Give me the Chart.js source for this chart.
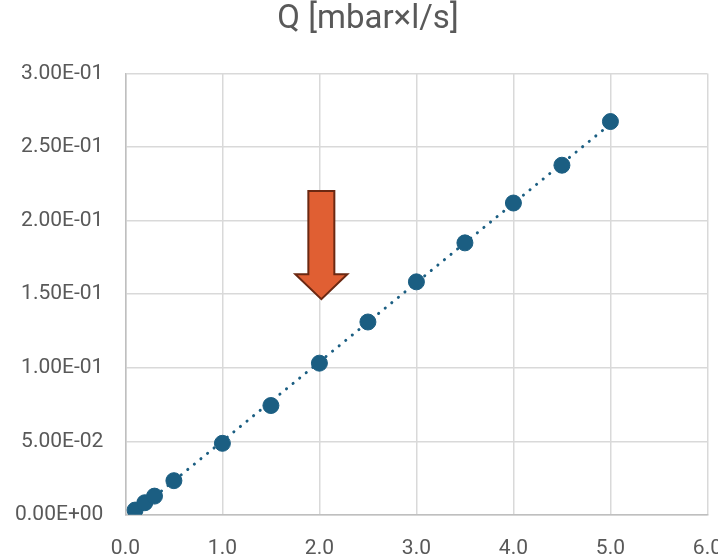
<!DOCTYPE html>
<html>
<head>
<meta charset="utf-8">
<script src="https://cdn.jsdelivr.net/npm/chart.js@4"></script>
<style>
  html, body { margin: 0; padding: 0; background: #fff; overflow: hidden; }
  #wrap { position: absolute; left: -7px; top: 0; width: 750px; height: 582px; }
</style>
</head>
<body>
<div id="wrap"><canvas id="grafico"></canvas></div>
<script>
const tiempos = [0.1, 0.2, 0.3, 0.5, 1.0, 1.5, 2.0, 2.5, 3.0, 3.5, 4.0, 4.5, 5.0];
const caudales = [0.0032, 0.0082, 0.0127, 0.0232, 0.0486, 0.0743, 0.1031, 0.1311, 0.1584, 0.1849, 0.2120, 0.2377, 0.2674];
const titulo = 'Q [mbar×l/s]';

// flecha de la anotación (coordenadas de datos)
const flecha = { x: 2.02, yArriba: 0.2202, yBase: 0.1636, yPunta: 0.1466 };

const puntos = tiempos.map((t, i) => ({ x: t, y: caudales[i] }));

// línea de tendencia lineal (mínimos cuadrados)
const n = tiempos.length;
const sx = tiempos.reduce((a, b) => a + b, 0);
const sy = caudales.reduce((a, b) => a + b, 0);
const sxy = tiempos.reduce((a, t, i) => a + t * caudales[i], 0);
const sxx = tiempos.reduce((a, t) => a + t * t, 0);
const pendiente = (n * sxy - sx * sy) / (n * sxx - sx * sx);
const corte = (sy - pendiente * sx) / n;
const xMin = Math.min(...tiempos), xMax = Math.max(...tiempos);
const tendencia = [
  { x: xMin, y: corte + pendiente * xMin },
  { x: xMax, y: corte + pendiente * xMax }
];

function formatoE(v) {
  if (Math.abs(v) < 1e-12) return '0.00E+00';
  const [m, e] = v.toExponential(2).split('e');
  const ex = parseInt(e, 10);
  return m + 'E' + (ex < 0 ? '-' : '+') + String(Math.abs(ex)).padStart(2, '0');
}

const pluginFlecha = {
  id: 'flecha',
  afterDatasetsDraw(chart) {
    const xs = chart.scales.x, ys = chart.scales.y;
    const cx = xs.getPixelForValue(flecha.x);
    const top = ys.getPixelForValue(flecha.yArriba);
    const base = ys.getPixelForValue(flecha.yBase);
    const tip = ys.getPixelForValue(flecha.yPunta);
    const ctx = chart.ctx;
    ctx.save();
    ctx.beginPath();
    ctx.moveTo(cx - 13, top);
    ctx.lineTo(cx + 13, top);
    ctx.lineTo(cx + 13, base);
    ctx.lineTo(cx + 26, base);
    ctx.lineTo(cx, tip);
    ctx.lineTo(cx - 26, base);
    ctx.lineTo(cx - 13, base);
    ctx.closePath();
    ctx.fillStyle = '#E05F33';
    ctx.fill();
    ctx.lineWidth = 2;
    ctx.lineJoin = 'miter';
    ctx.strokeStyle = '#6B2812';
    ctx.stroke();
    ctx.restore();
  }
};

const ctxGrafico = document.getElementById('grafico');

const grafico = new Chart(ctxGrafico, {
  type: 'scatter',
  data: {
    datasets: [{
      label: 'Tendencia',
      data: tendencia,
      showLine: true,
      borderColor: '#1B5E82',
      borderWidth: 3,
      borderDash: [0.1, 8.4],
      borderCapStyle: 'round',
      pointRadius: 0,
      order: 2
    }, {
      label: 'Q',
      data: puntos,
      backgroundColor: '#1B5E82',
      borderColor: '#1B5E82',
      pointRadius: 8,
      pointHoverRadius: 8,
      order: 1
    }]
  },
  options: {
    responsive: true,
    maintainAspectRatio: false,
    animation: false,
    layout: { padding: { left: 0, right: 0, top: 0, bottom: 0 } },
    plugins: {
      legend: { display: false },
      tooltip: { enabled: false },
      title: {
        display: true,
        text: titulo,
        color: '#595959',
        font: { family: 'Roboto', size: 33, weight: 'normal' },
        padding: { top: 0, bottom: 34 }
      }
    },
    scales: {
      x: {
        type: 'linear',
        min: 0,
        max: 6,
        ticks: {
          stepSize: 1,
          color: '#595959',
          font: { family: 'Roboto', size: 21 },
          padding: 21,
          callback: v => v.toFixed(1)
        },
        grid: { color: '#D9D9D9', lineWidth: 1.5, drawTicks: false },
        border: { color: '#BFBFBF', width: 1.5 }
      },
      y: {
        min: 0,
        max: 0.3,
        ticks: {
          stepSize: 0.05,
          color: '#595959',
          font: { family: 'Roboto', size: 21 },
          padding: 22,
          callback: v => formatoE(v)
        },
        grid: { color: '#D9D9D9', lineWidth: 1.5, drawTicks: false },
        border: { color: '#BFBFBF', width: 1.5 }
      }
    }
  },
  plugins: [pluginFlecha]
});
</script>
</body>
</html>
